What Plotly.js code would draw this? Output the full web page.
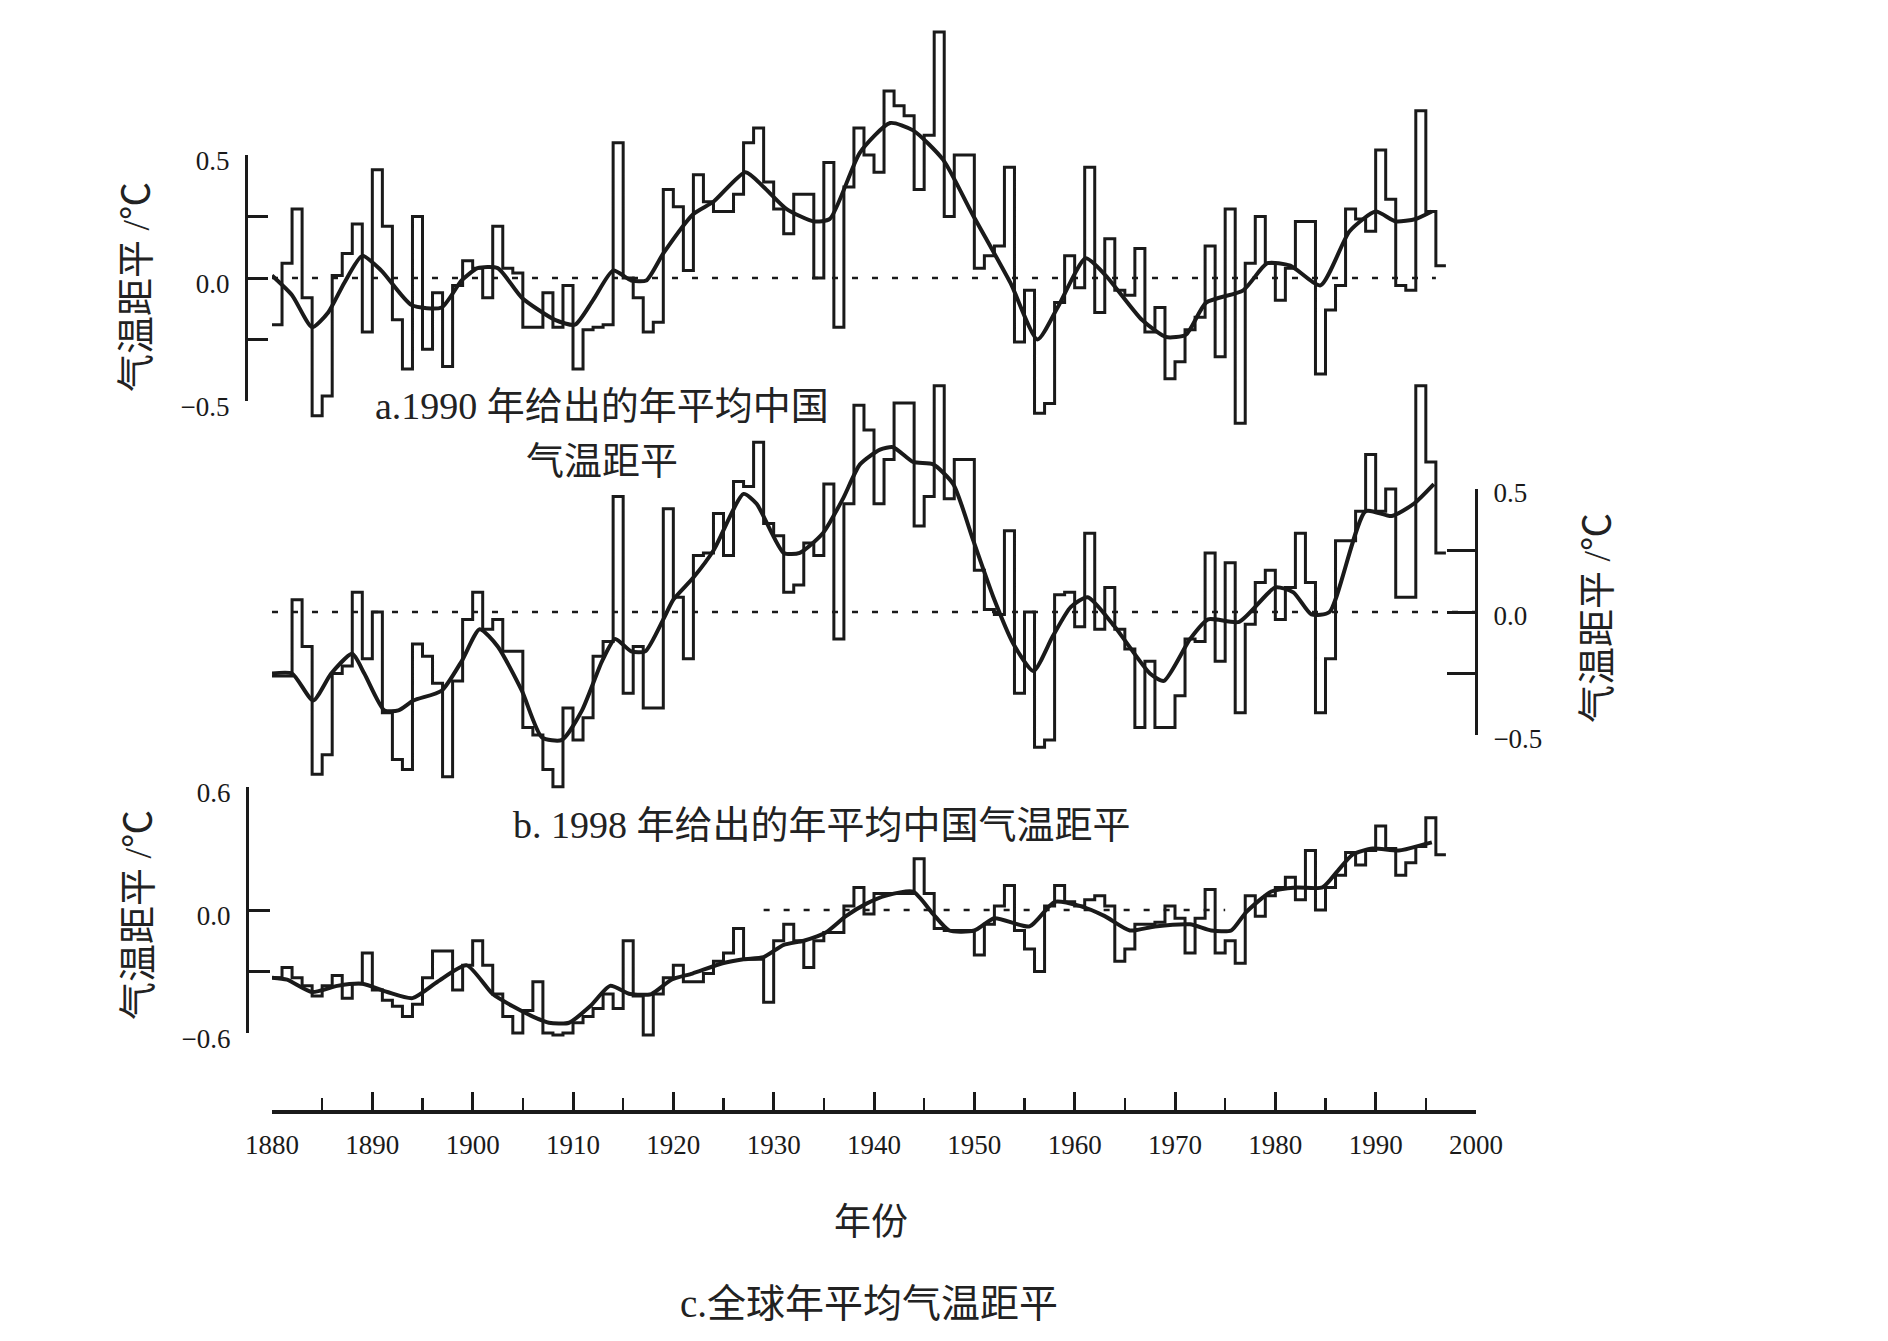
<!DOCTYPE html>
<html><head><meta charset="utf-8">
<script src="https://cdn.plot.ly/plotly-3.0.1.min.js"></script>
<style>html,body{margin:0;padding:0;background:#fff}#chart{width:1888px;height:1341px}</style>
</head><body><div id="chart"></div>
<script>
// ---------- data ----------
const firstYear = 1880;

// a. 1990 version, annual China temperature anomaly (°C), 1880-1996
const chinaA1990 = [-0.19,0.06,0.28,-0.08,-0.56,-0.48,0.01,0.10,0.22,-0.22,
 0.44,0.21,-0.17,-0.37,0.25,-0.29,-0.06,-0.36,-0.03,0.07,
 0.04,-0.08,0.21,0.04,0.02,-0.20,-0.20,-0.06,-0.20,-0.03,
 -0.37,-0.21,-0.20,-0.19,0.55,0.00,-0.08,-0.22,-0.18,0.36,
 0.29,0.03,0.42,0.31,0.27,0.27,0.34,0.55,0.61,0.39,
 0.28,0.18,0.34,0.34,0.00,0.47,-0.20,0.37,0.61,0.50,
 0.43,0.76,0.70,0.66,0.36,0.58,1.00,0.25,0.50,0.50,
 0.04,0.09,0.13,0.45,-0.26,-0.05,-0.55,-0.51,-0.10,0.09,
 -0.04,0.45,-0.14,0.16,-0.05,-0.07,0.12,-0.22,-0.12,-0.41,
 -0.34,-0.21,-0.16,0.13,-0.32,0.28,-0.59,0.06,0.25,0.06,
 -0.09,0.04,0.23,0.23,-0.39,-0.13,-0.03,0.28,0.24,0.19,
 0.52,0.32,-0.03,-0.05,0.68,0.27,0.05];
const smoothYearsA = [1880,1882,1884,1885.6,1887.2,1889,1890.9,1893.9,1896.9,1898.9,1900.5,1902.5,1904.9,1908.2,1910.2,1912,1914,1915.8,1917.3,1919,1922,1924,1927.2,1929,1931.3,1934,1935.6,1938.6,1941.6,1943.9,1946.9,1949.8,1953.6,1956.3,1958.3,1961.1,1963.1,1966.7,1969.1,1971.1,1973.1,1976.8,1979.2,1981.5,1984.5,1987.4,1990,1992,1994,1995.6];
const smoothA = [0.01,-0.07,-0.20,-0.14,-0.02,0.09,0.03,-0.11,-0.12,-0.01,0.04,0.04,-0.08,-0.17,-0.19,-0.09,0.03,-0.01,-0.01,0.10,0.26,0.31,0.43,0.37,0.28,0.23,0.24,0.51,0.63,0.60,0.48,0.26,-0.02,-0.25,-0.12,0.08,0.01,-0.17,-0.24,-0.23,-0.10,-0.05,0.06,0.05,-0.03,0.19,0.27,0.23,0.24,0.27];

// b. 1998 version, annual China temperature anomaly (°C), 1880-1996
const chinaB1998 = [-0.26,-0.26,0.05,-0.14,-0.66,-0.58,-0.25,-0.22,0.08,-0.19,
 0.00,-0.41,-0.60,-0.64,-0.13,-0.18,-0.29,-0.67,-0.28,-0.03,
 0.08,-0.07,-0.03,-0.16,-0.16,-0.47,-0.50,-0.64,-0.71,-0.39,
 -0.52,-0.43,-0.18,-0.12,0.47,-0.33,-0.14,-0.39,-0.39,0.42,
 0.06,-0.19,0.23,0.24,0.40,0.23,0.53,0.51,0.69,0.36,
 0.31,0.08,0.11,0.28,0.23,0.52,-0.11,0.44,0.84,0.74,
 0.44,0.62,0.85,0.85,0.35,0.47,0.92,0.46,0.62,0.62,
 0.17,0.01,-0.01,0.33,-0.33,0.00,-0.55,-0.52,0.07,0.08,
 -0.06,0.32,-0.07,0.10,-0.07,-0.15,-0.47,-0.20,-0.47,-0.47,
 -0.34,-0.11,-0.12,0.24,-0.20,0.20,-0.41,-0.05,0.12,0.17,
 -0.03,0.10,0.32,0.12,-0.41,-0.19,0.29,0.29,0.41,0.64,
 0.41,0.50,0.06,0.06,0.92,0.61,0.24];
const smoothYearsB = [1880,1882,1884.1,1885.9,1888,1889.2,1891.2,1892.6,1894.1,1896.9,1898.9,1900.7,1902.5,1904.9,1906.9,1908.9,1910.9,1912.9,1914.2,1915.8,1917.2,1919,1920,1922,1924,1927,1928.3,1931,1932.6,1934.9,1936.9,1938.6,1940.6,1941.9,1943.9,1945.9,1947.9,1949.9,1951.9,1953.9,1955.9,1957.8,1959.6,1961.3,1964,1967.5,1968.9,1971.5,1973.3,1976.4,1980,1981.8,1983.6,1985.4,1989,1991.6,1993.8,1995.8];
const smoothB = [-0.25,-0.25,-0.36,-0.25,-0.17,-0.25,-0.40,-0.40,-0.36,-0.32,-0.20,-0.07,-0.14,-0.32,-0.51,-0.52,-0.40,-0.20,-0.11,-0.16,-0.16,-0.03,0.05,0.14,0.25,0.48,0.44,0.24,0.24,0.32,0.46,0.60,0.66,0.67,0.61,0.60,0.52,0.29,0.06,-0.13,-0.24,-0.10,0.02,0.06,-0.06,-0.25,-0.28,-0.11,-0.03,-0.04,0.10,0.08,-0.01,0.00,0.41,0.39,0.44,0.52];

// c. global annual mean temperature anomaly (°C), 1880-1996
const globalC = [-0.33,-0.28,-0.33,-0.37,-0.42,-0.37,-0.32,-0.43,-0.36,-0.21,
 -0.39,-0.44,-0.47,-0.52,-0.46,-0.33,-0.20,-0.20,-0.39,-0.27,
 -0.15,-0.27,-0.41,-0.52,-0.60,-0.49,-0.35,-0.60,-0.61,-0.60,
 -0.55,-0.52,-0.48,-0.41,-0.48,-0.15,-0.42,-0.61,-0.41,-0.33,
 -0.27,-0.35,-0.35,-0.31,-0.25,-0.21,-0.09,-0.24,-0.24,-0.45,
 -0.15,-0.07,-0.15,-0.28,-0.15,-0.11,-0.11,0.02,0.11,-0.02,
 0.08,0.08,0.08,0.08,0.25,0.08,-0.09,-0.10,-0.10,-0.10,
 -0.22,-0.07,0.02,0.12,-0.10,-0.19,-0.30,0.02,0.12,0.04,
 0.02,0.05,0.07,0.02,-0.25,-0.19,-0.07,-0.07,-0.06,0.02,
 -0.04,-0.21,-0.04,0.10,-0.21,-0.15,-0.26,0.07,-0.03,0.07,
 0.11,0.16,0.05,0.29,0.00,0.11,0.17,0.28,0.22,0.29,
 0.41,0.30,0.17,0.23,0.31,0.45,0.27];
const smoothYearsC = [1880,1881.5,1884,1886.5,1889,1891.5,1894,1896.5,1899.4,1902,1904,1906,1907.6,1909.6,1911.7,1913.7,1915.7,1917.8,1919.8,1921.9,1924.9,1927,1929,1931,1933,1935.2,1937.2,1939.2,1941.2,1943.9,1945.9,1947.5,1950,1952,1955.5,1958,1960.5,1963,1965.5,1968,1971.5,1973.6,1975.6,1977.1,1979.6,1982.1,1984.7,1986.2,1987.7,1989.7,1992.3,1994.8,1995.6];
const smoothC = [-0.33,-0.34,-0.40,-0.37,-0.36,-0.40,-0.43,-0.35,-0.27,-0.41,-0.47,-0.52,-0.55,-0.55,-0.47,-0.37,-0.41,-0.41,-0.34,-0.31,-0.26,-0.24,-0.23,-0.17,-0.15,-0.11,-0.03,0.03,0.07,0.09,-0.02,-0.10,-0.10,-0.04,-0.08,0.04,0.02,-0.03,-0.10,-0.08,-0.07,-0.10,-0.10,-0.01,0.09,0.11,0.11,0.19,0.27,0.30,0.29,0.32,0.33];

// dotted zero reference lines (year spans)
const zeroSpanA = [1880, 1996];
const zeroSpanB = [1880, 2000];
const zeroSpanC = [1929, 1975];

// tick labels
const xTickVals = [1880,1890,1900,1910,1920,1930,1940,1950,1960,1970,1980,1990,2000];
const yTickValsAB = [-0.5,-0.25,0,0.25,0.5];
const yTickTextAB = ['\u22120.5','','0.0','','0.5'];
const yTickValsC = [-0.6,-0.3,0,0.6];
const yTickTextC = ['\u22120.6','','0.0','0.6'];

const yTitle = '气温距平 /℃';
const capA1 = 'a.1990 年给出的年平均中国';
const capA2 = '气温距平';
const capB = 'b. 1998 年给出的年平均中国气温距平';
const xTitle = '年份';
const capC = 'c.全球年平均气温距平';

// ---------- drawing ----------
const W = 1888, H = 1341;
const px = v => v / W;
const py = v => 1 - v / H;
const INK = '#1a1a1a';
const SERIF = '"Liberation Serif", "Noto Sans CJK SC", serif';

function stepTrace(vals, yaxis) {
  const x = [], y = [];
  vals.forEach((v, i) => { x.push(firstYear + i); y.push(v); });
  x.push(firstYear + vals.length); y.push(vals[vals.length - 1]);
  return {x, y, mode:'lines', xaxis:'x', yaxis, hoverinfo:'skip',
          line:{shape:'hv', width:3, color:INK}};
}
function smoothTrace(xs, ys, yaxis) {
  return {x:xs, y:ys, mode:'lines', xaxis:'x', yaxis, hoverinfo:'skip',
          line:{shape:'spline', smoothing:0.6, width:4, color:INK}};
}
function zeroTrace(span, yaxis) {
  return {x:span, y:[0,0], mode:'lines', xaxis:'x', yaxis, hoverinfo:'skip',
          line:{width:2.5, color:INK, dash:'6px,14px'}};
}

const traces = [
  zeroTrace(zeroSpanA, 'y2'),
  stepTrace(chinaA1990, 'y'),
  smoothTrace(smoothYearsA, smoothA, 'y'),
  zeroTrace(zeroSpanB, 'y4'),
  stepTrace(chinaB1998, 'y3'),
  smoothTrace(smoothYearsB, smoothB, 'y3'),
  zeroTrace(zeroSpanC, 'y6'),
  stepTrace(globalC, 'y5'),
  smoothTrace(smoothYearsC, smoothC, 'y5'),
];

const hidden = {visible:false, fixedrange:true, showgrid:false, zeroline:false, anchor:'x'};
function visAxis(dom, range, pos, side, vals, text, len, shift) {
  return {domain:dom, range, anchor:'free', position:pos, side,
    showline:true, linewidth:3, linecolor:INK, showgrid:false, zeroline:false,
    ticks:'inside', ticklen:len, tickwidth:3, tickcolor:INK,
    tickmode:'array', tickvals:vals, ticktext:text, ticklabelstandoff:10, ticklabelshift:shift,
    tickfont:{family:SERIF, size:27, color:INK}, fixedrange:true};
}

const layout = {
  width:W, height:H, margin:{l:0,r:0,t:0,b:0},
  paper_bgcolor:'#fff', plot_bgcolor:'rgba(0,0,0,0)', showlegend:false,
  xaxis:{domain:[px(272),px(1476)], range:[1880,2000], anchor:'free', position:py(1111),
    showline:true, linewidth:3.5, linecolor:INK, showgrid:false, zeroline:false,
    ticks:'inside', ticklen:18, tickwidth:3, tickcolor:INK,
    tickmode:'array', tickvals:xTickVals, ticklabelstandoff:8,
    minor:{tickmode:'linear', tick0:1885, dtick:10, ticks:'inside', ticklen:12, tickwidth:2.5, tickcolor:INK},
    tickfont:{family:SERIF, size:27, color:INK}, fixedrange:true},
  yaxis: Object.assign({domain:[py(440),py(10)], range:[(278-440)/246,(278-10)/246]}, hidden),
  yaxis2: visAxis([py(401),py(155)], [-0.5,0.5], px(246), 'left', yTickValsAB, yTickTextAB, 20, 6),
  yaxis3: Object.assign({domain:[py(800),py(370)], range:[(612-800)/246,(612-370)/246]}, hidden),
  yaxis4: visAxis([py(735),py(489)], [-0.5,0.5], px(1476), 'right', yTickValsAB, yTickTextAB, 28, 4),
  yaxis5: Object.assign({domain:[py(1060),py(770)], range:[(910-1060)/205,(910-770)/205]}, hidden),
  yaxis6: visAxis([py(1033),py(787)], [-0.6,0.6], px(247), 'left', yTickValsC, yTickTextC, 21, 6),
  annotations:[
    {text:yTitle, x:px(136), y:py(287), textangle:-90, size:38},
    {text:yTitle, x:px(1597), y:py(618), textangle:-90, size:38},
    {text:yTitle, x:px(138), y:py(915), textangle:-90, size:38},
    {text:capA1, x:px(602), y:py(406), size:38},
    {text:capA2, x:px(602), y:py(461), size:38},
    {text:capB, x:px(822), y:py(825), size:38},
    {text:xTitle, x:px(871), y:py(1222), size:37},
    {text:capC, x:px(869), y:py(1303), size:39},
  ].map(a => ({text:a.text, x:a.x, y:a.y, xref:'paper', yref:'paper', showarrow:false,
     xanchor:'center', yanchor:'middle', textangle:a.textangle || 0,
     font:{family:SERIF, size:a.size, color:'#222'}}))
};

Plotly.newPlot('chart', traces, layout, {staticPlot:true, displayModeBar:false});
</script>
</body></html>
